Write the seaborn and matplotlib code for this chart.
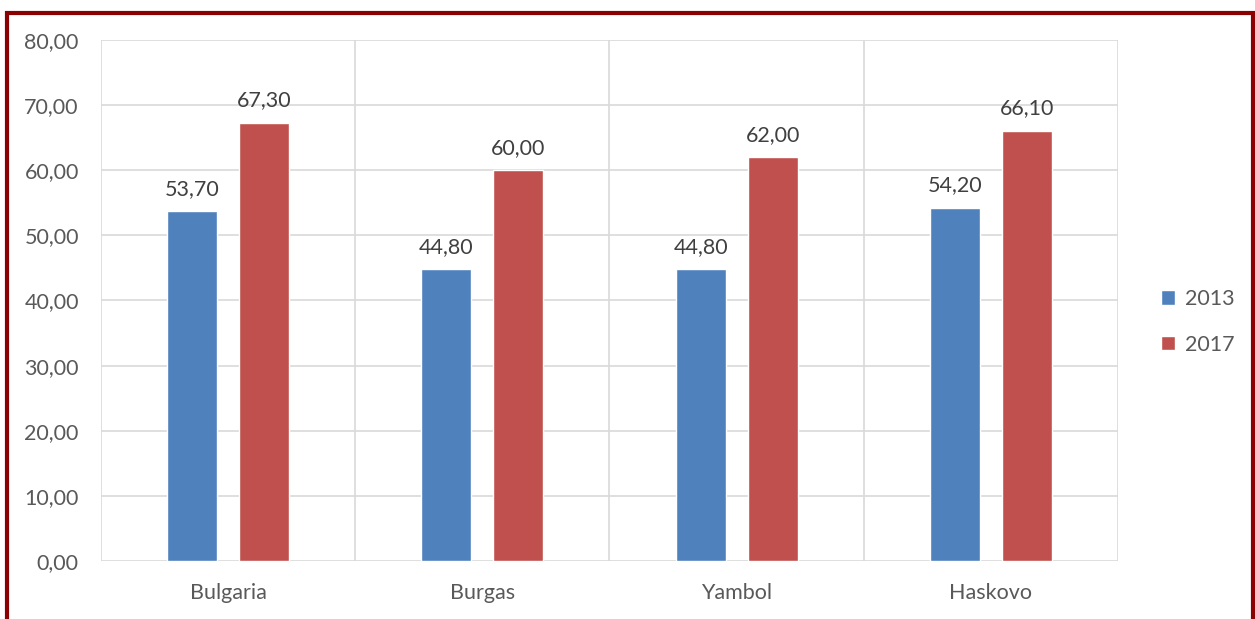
import pandas as pd
import numpy as np
import matplotlib.pyplot as plt
import seaborn as sns
from matplotlib.patches import Rectangle, Patch
from matplotlib.ticker import FixedLocator, FuncFormatter

# Chart data
regions = ['Bulgaria', 'Burgas', 'Yambol', 'Haskovo']
years = ['2013', '2017']
values_2013 = [53.70, 44.80, 44.80, 54.20]
values_2017 = [67.30, 60.00, 62.00, 66.10]
y_ticks = [0, 10, 20, 30, 40, 50, 60, 70, 80]

colors = {'2013': '#4F81BD', '2017': '#C0504D'}


def comma(v):
    return f'{v:.2f}'.replace('.', ',')


df = pd.DataFrame({
    'region': regions * 2,
    'year': [years[0]] * len(regions) + [years[1]] * len(regions),
    'value': values_2013 + values_2017,
})

sns.set_style('white')
plt.rcParams['font.family'] = ['Lato', 'DejaVu Sans']

fig = plt.figure(figsize=(12.55, 6.19), dpi=100)
ax = fig.add_axes([0.0805, 0.0937, 0.8103, 0.8417])

sns.barplot(data=df, x='region', y='value', hue='year', order=regions,
            hue_order=years, palette=colors, width=0.566, gap=0.307,
            saturation=1, legend=False, ax=ax)

# data labels
for cont in ax.containers:
    ax.bar_label(cont, labels=[comma(v) for v in cont.datavalues],
                 padding=9, fontsize=15.5, color='#404040')

ax.set_xlim(-0.5, len(regions) - 0.5)
ax.set_ylim(0, 80)
ax.yaxis.set_major_locator(FixedLocator(y_ticks))
ax.yaxis.set_major_formatter(FuncFormatter(lambda v, p: comma(v)))
ax.xaxis.set_minor_locator(FixedLocator(np.arange(-0.5, len(regions), 1.0)))
ax.set_xlabel('')
ax.set_ylabel('')

ax.grid(axis='y', which='major', color='#D9D9D9', linewidth=1.2)
ax.grid(axis='x', which='minor', color='#D9D9D9', linewidth=1.2)
ax.set_axisbelow(True)
for s in ax.spines.values():
    s.set_visible(False)

ax.tick_params(axis='both', which='both', length=0, labelsize=15.5,
               labelcolor='#595959')
ax.tick_params(axis='y', pad=16)
ax.tick_params(axis='x', pad=16)

handles = [Patch(facecolor=colors[y], label=y) for y in years]
fig.legend(handles=handles, loc='center left', bbox_to_anchor=(0.91, 0.48),
           frameon=False, fontsize=15.5, labelcolor='#595959',
           handlelength=0.65, handleheight=0.65, handletextpad=0.45,
           labelspacing=1.2)

# dark red frame around the chart
fig.patches.append(Rectangle((7 / 1255, -0.02), 1246 / 1255, 0.9985 - 12 / 619 + 0.02,
                             transform=fig.transFigure, fill=False,
                             edgecolor='#8B0000', linewidth=3, figure=fig))

fig.savefig('out.png', dpi=100)
